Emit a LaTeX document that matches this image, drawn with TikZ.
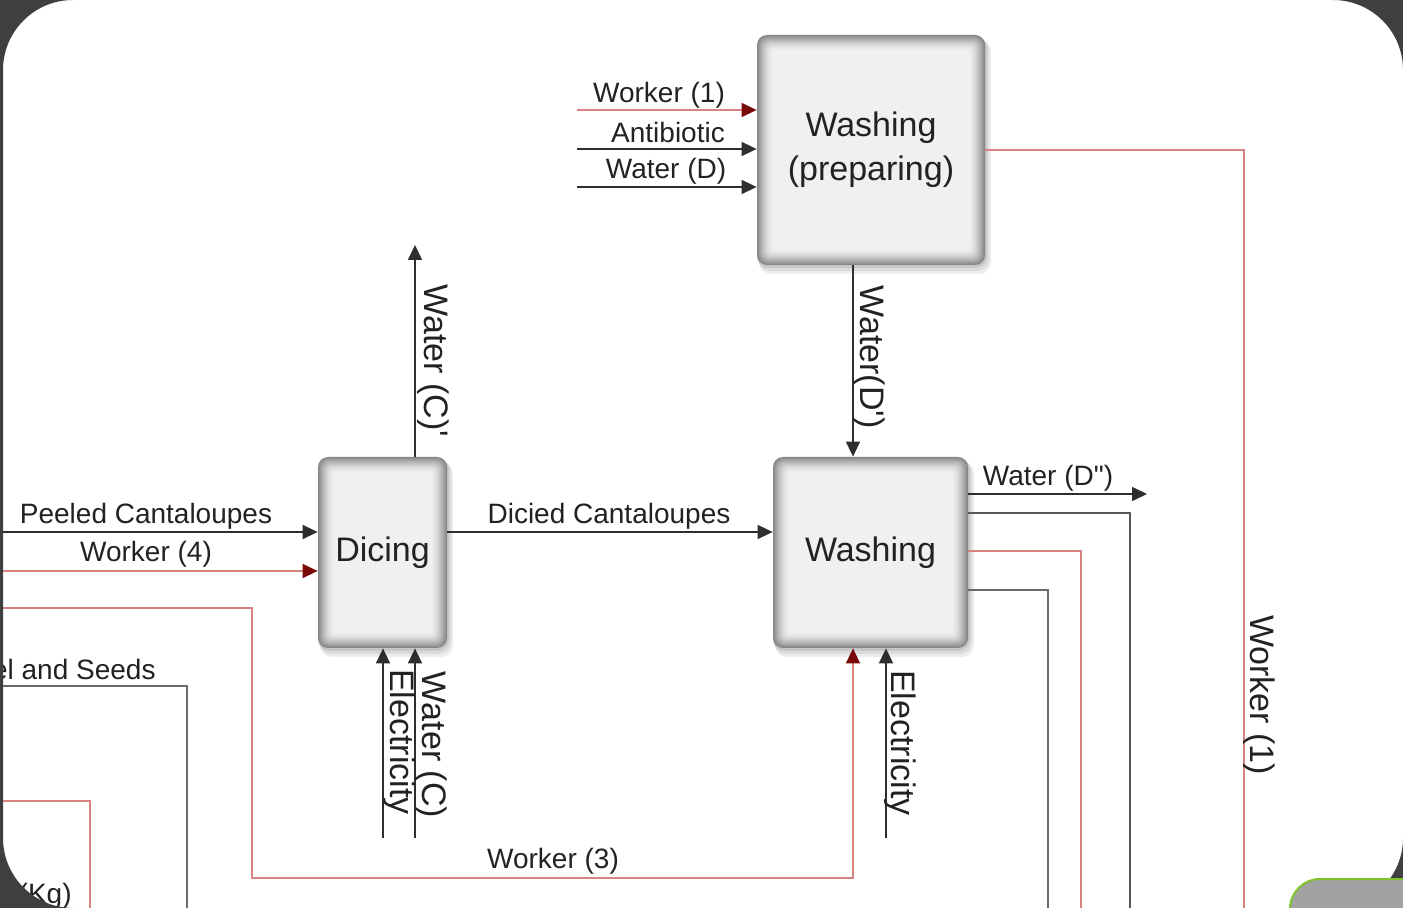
\documentclass[tikz,border=0pt]{standalone}
\usepackage{fontspec}
\setmainfont{Liberation Sans}
\newfontfamily\rawf{Liberation Sans}[Ligatures=TeXOff]
\usetikzlibrary{arrows.meta}
\definecolor{framec}{HTML}{3F3F3F}
\definecolor{linec}{HTML}{2E2E2E}
\definecolor{grayline}{HTML}{6A6A6A}
\definecolor{redl}{HTML}{D98282}
\definecolor{darkred}{HTML}{7A0A0A}
\definecolor{txt}{HTML}{222222}
\definecolor{greenb}{HTML}{7DC42C}
\definecolor{grayf}{HTML}{A2A2A2}
\newcommand\procbox[6]{% name, cx, cy, w, h, text
  \begin{scope}[shift={(#2,#3)}]
    \fill[black!7, rounded corners=6pt] (-#4/2+2,-#5/2+5) rectangle (#4/2+6,#5/2+9);
    \fill[black!14, rounded corners=6pt] (-#4/2+1,-#5/2+3) rectangle (#4/2+4,#5/2+6);
    \fill[black!22, rounded corners=6pt] (-#4/2,-#5/2+1) rectangle (#4/2+2,#5/2+3);
    \foreach \k in {0,...,20}{%
      \pgfmathtruncatemacro\pc{6+42*(1-\k/20)^1.6}%
      \pgfmathsetmacro\rc{max(5-0.2*\k,1.5)}%
      \fill[black!\pc, rounded corners=\rc pt] (-#4/2+\k*0.8,-#5/2+\k*0.8) rectangle (#4/2-\k*0.8,#5/2-\k*0.8);
    }
  \end{scope}
  \node[big, minimum width={#4*0.5pt}, minimum height={#5*0.5pt}] (#1) at (#2,#3) {#6};
}
\begin{document}
\begin{tikzpicture}[x=0.5pt,y=-0.5pt,
  blk/.style={draw=linec, line width=0.8pt, -{Triangle[length=7.5pt,width=7pt]}},
  kline/.style={draw=linec!80, line width=0.8pt},
  gline/.style={draw=grayline, line width=0.8pt},
  rline/.style={draw=redl, line width=0.8pt},
  rarr/.style={draw=redl, line width=0.8pt, -{Triangle[length=7.5pt,width=7pt,color=darkred]}},
  lbl/.style={text=txt, font=\fontsize{14}{16}\selectfont, inner sep=0pt},
  vlbl/.style={text=txt, font=\fontsize{17}{20}\selectfont, inner sep=0pt, rotate=-90},
  big/.style={text=txt, font=\fontsize{17}{22}\selectfont, align=center, inner sep=0pt},
]
\useasboundingbox (0,0) rectangle (1403,908);
\fill[white] (0,0) rectangle (1403,908);

% process boxes
\procbox{wp}{871}{150}{228}{230}{Washing\\(preparing)}
\procbox{di}{382.5}{552.5}{129}{191}{Dicing}
\procbox{wa}{870.5}{552.5}{195}{191}{Washing}

% inputs of Washing (preparing)
\coordinate (w1s) at (577,110);
\coordinate (abs) at (577,149);
\coordinate (wds) at (577,187);
\draw[rarr] (w1s) -- (w1s -| wp.west);
\draw[blk] (abs) -- (abs -| wp.west);
\draw[blk] (wds) -- (wds -| wp.west);
\node[lbl] (lw1) at (659,95) {Worker (1)};
\node[lbl] (lab) at (668,132) {Antibiotic};
\node[lbl] (lwd) at (666,171) {Water (D)};

% Worker (1) out of Washing (preparing)
\coordinate (w1o) at (wp.east);
\coordinate (w1e) at (1244,930);
\draw[rline] (w1o) -| (w1e);
\node[vlbl] (lw1v) at (1259,695) {Worker (1)};

% Water(D')
\draw[blk] ([xshift=-9pt]wp.south) -- ([xshift=-8.75pt]wa.north);
\node[vlbl] (lwdp) at (869,357) {Water(D{\rawf'})};

% Dicing
\coordinate (wcpe) at (415,245);
\draw[blk] (wcpe |- di.north) -- (wcpe);
\node[vlbl] (lwcp) at (433,361) {Water (C){\rawf'}};

\coordinate (pcs) at (0,532);
\coordinate (w4s) at (0,571);
\draw[blk] (pcs) -- (pcs -| di.west);
\draw[rarr] (w4s) -- (w4s -| di.west);
\node[lbl] (lpc) at (146,516) {Peeled Cantaloupes};
\node[lbl] (lw4) at (146,554) {Worker (4)};

\draw[blk] (di.east |- pcs) -- (wa.west |- pcs);
\node[lbl] (ldc) at (609,516) {Dicied Cantaloupes};

\coordinate (eds) at (383,838);
\coordinate (wcs) at (415,838);
\draw[blk] (eds) -- (eds |- di.south);
\draw[blk] (wcs) -- (wcs |- di.south);
\node[vlbl] (led) at (399,742) {Electricity};
\node[vlbl] (lwc) at (431,745) {Water (C)};

% Worker (3)
\coordinate (w3s) at (0,608);
\coordinate (w3a) at (252,608);
\coordinate (w3b) at (252,878);
\coordinate (w3c) at (853,878);
\draw[rarr] (w3s) -- (w3a) -- (w3b) -- (w3c) -- ([xshift=-8.75pt]wa.south);
\node[lbl] (lw3) at (553,861) {Worker (3)};

% Electricity into Washing
\coordinate (ews) at (886,838);
\draw[blk] (ews) -- (ews |- wa.south);
\node[vlbl] (lew) at (900,743) {Electricity};

% outputs of Washing
\coordinate (wdde) at (1147,494);
\draw[blk] (wa.east |- wdde) -- (wdde);
\node[lbl] (lwdd) at (1048,478) {Water (D{\rawf"})};
\coordinate (o1s) at (1130,513);
\coordinate (o1e) at (1130,930);
\draw[kline] (wa.east |- o1s) -- (o1s) -- (o1e);
\coordinate (o2s) at (1081,551);
\coordinate (o2e) at (1081,930);
\draw[rline] (wa.east |- o2s) -- (o2s) -- (o2e);
\coordinate (o3s) at (1048,590);
\coordinate (o3e) at (1048,930);
\draw[gline] (wa.east |- o3s) -- (o3s) -- (o3e);

% left partial flows
\coordinate (ps) at (0,686);
\coordinate (pe) at (187,930);
\draw[gline] (ps) -| (pe);
\node[lbl, anchor=east] (lps) at (156,669) {Peel and Seeds};
\coordinate (ks) at (0,801);
\coordinate (ke) at (90,930);
\draw[rline] (ks) -| (ke);
\node[lbl, anchor=east] (lkg) at (72,896) {(Kg)};

% frame
\fill[framec, even odd rule] (0,0) rectangle (1403,908) [rounded corners=35pt] (3,0) rectangle (1403,908);
\filldraw[fill=grayf, draw=greenb, line width=1pt, rounded corners=15pt] (1290,879) rectangle (1500,1000);
\end{tikzpicture}
\end{document}
